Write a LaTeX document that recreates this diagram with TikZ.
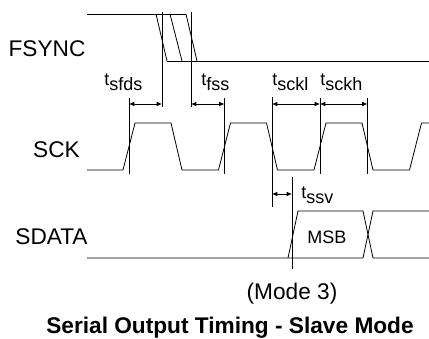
\documentclass[tikz,border=0pt]{standalone}
\usepackage{fontspec}
\setmainfont{Liberation Sans}
\usetikzlibrary{arrows.meta}
\newcommand{\tsub}[1]{t\raisebox{-0.33em}{#1}}
\begin{document}
\begin{tikzpicture}[x=0.75pt, y=-0.75pt, line width=0.6pt,
    sig/.style = {font=\fontsize{17}{20}\selectfont, inner sep=0pt, anchor=base},
    tim/.style = {font=\fontsize{13.5}{16}\selectfont, inner sep=0pt, anchor=base west},
    dim/.style = {{Latex[length=4pt,width=3.4pt]}-{Latex[length=4pt,width=3.4pt]}}]
    \useasboundingbox (0,0) rectangle (429,339);
    % signal names
    \node[sig] (fsync) at (47,56) {FSYNC};
    \node[sig] (sck) at (56.5,157) {SCK};
    \node[sig] (sdata) at (51.5,244) {SDATA};

    % FSYNC
    \draw (87,14) -- (186,14);
    \draw (167,61) -- (429,61);
    \draw (156,14) -- (167,61);
    \draw (170,14) -- (182,61);
    \draw (186,14) -- (197,61);

    % SCK
    \draw (87,170) -- (123,170) -- (135,123) -- (171,123) -- (182,170)
        -- (218.5,170) -- (230.5,123) -- (266.5,123) -- (277.5,170)
        -- (314,170) -- (326,123) -- (362,123) -- (373,170)
        -- (409.5,170) -- (421.5,123) -- (429,123);

    % SDATA
    \draw (87,258) -- (363,258) -- (373,211) -- (429,211);
    \draw (288,258) -- (298,211) -- (363,211) -- (373,258) -- (429,258);
    \node[tim, anchor=center] (msb) at (327,237) {MSB};

    % timing lines
    \draw (129,98) -- (129,174);
    \draw (162,12) -- (162,107);
    \draw (191,12) -- (191,107);
    \draw (224.5,98) -- (224.5,174);
    \draw (272,97) -- (272,207);
    \draw (320,98) -- (320,174);
    \draw (367.5,98) -- (367.5,174);
    \draw (292,177) -- (292,269);

    \coordinate (r1) at (129,104);
    \coordinate (f1) at (162,104);
    \coordinate (f2) at (191,104);
    \coordinate (r2) at (224.5,104);
    \coordinate (d2) at (272,104);
    \coordinate (r3) at (320,104);
    \coordinate (d3) at (367.5,104);
    \coordinate (s1) at (272,194);
    \coordinate (s2) at (292,194);

    \draw[dim] (r1) -- (f1);
    \draw[dim] (f2) -- (r2);
    \draw[dim] (d2) -- (r3);
    \draw[dim] (r3) -- (d3);
    \draw[dim] (s1) -- (s2);

    % labels
    \node[tim] (tsfds) at (104,85) {\tsub{sfds}};
    \node[tim] (tfss) at (201,85) {\tsub{fss}};
    \node[tim] (tsckl) at (272,85) {\tsub{sckl}};
    \node[tim] (tsckh) at (320,85) {\tsub{sckh}};
    \node[tim] (tssv) at (301,198) {\tsub{ssv}};

    \node[sig] (mode) at (292,299) {(Mode 3)};
    \node[sig, font=\fontsize{17}{20}\selectfont\bfseries] (title) at (230,333) {Serial Output Timing - Slave Mode};
\end{tikzpicture}
\end{document}
